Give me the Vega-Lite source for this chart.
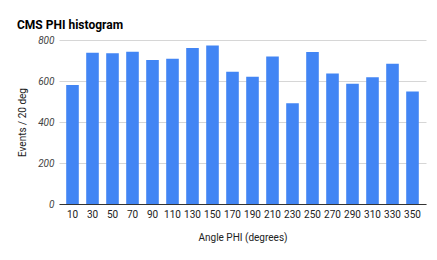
{
  "$schema": "https://vega.github.io/schema/vega-lite/v6.json",
  "autosize": "none",
  "width": 367,
  "height": 164,
  "padding": {"left": 59, "top": 40, "right": 11, "bottom": 56},
  "background": "white",
  "config": {
    "font": "Roboto",
    "view": {"stroke": null}
  },
  "title": {
    "text": "CMS PHI histogram",
    "anchor": "start",
    "frame": "group",
    "dx": -42,
    "dy": 21,
    "offset": 15,
    "baseline": "alphabetic",
    "font": "Roboto",
    "fontSize": 12,
    "fontWeight": "bold",
    "color": "#000000"
  },
  "data": {
    "values": [
      {"angle": "10", "events": 580},
      {"angle": "30", "events": 738},
      {"angle": "50", "events": 735},
      {"angle": "70", "events": 743},
      {"angle": "90", "events": 702},
      {"angle": "110", "events": 709},
      {"angle": "130", "events": 761},
      {"angle": "150", "events": 773},
      {"angle": "170", "events": 645},
      {"angle": "190", "events": 621},
      {"angle": "210", "events": 719},
      {"angle": "230", "events": 492},
      {"angle": "250", "events": 741},
      {"angle": "270", "events": 637},
      {"angle": "290", "events": 587},
      {"angle": "310", "events": 618},
      {"angle": "330", "events": 684},
      {"angle": "350", "events": 549}
    ]
  },
  "mark": {"type": "bar", "color": "#4285f4"},
  "encoding": {
    "x": {
      "field": "angle",
      "type": "ordinal",
      "sort": null,
      "scale": {"paddingInner": 0.37, "paddingOuter": 0.36},
      "axis": {
        "title": "Angle PHI (degrees)",
        "labelAngle": 0,
        "labelFontSize": 10,
        "labelColor": "#222222",
        "labelPadding": 5,
        "ticks": false,
        "domainColor": "#333333",
        "domainWidth": 1,
        "titleFontSize": 10,
        "titleFontWeight": "normal",
        "titleColor": "#222222",
        "titlePadding": 13
      }
    },
    "y": {
      "field": "events",
      "type": "quantitative",
      "scale": {"domain": [0, 800]},
      "axis": {
        "title": "Events / 20 deg",
        "values": [0, 200, 400, 600, 800],
        "labelFontSize": 10,
        "labelFontStyle": "italic",
        "labelColor": "#444444",
        "labelPadding": 5,
        "ticks": false,
        "domain": false,
        "gridColor": "#d6d6d6",
        "titleFontSize": 10,
        "titleFontWeight": "normal",
        "titleColor": "#222222",
        "titleX": -37,
        "titleY": 82,
        "titleBaseline": "middle",
        "titleAlign": "center",
        "titleAngle": -90
      }
    }
  }
}
